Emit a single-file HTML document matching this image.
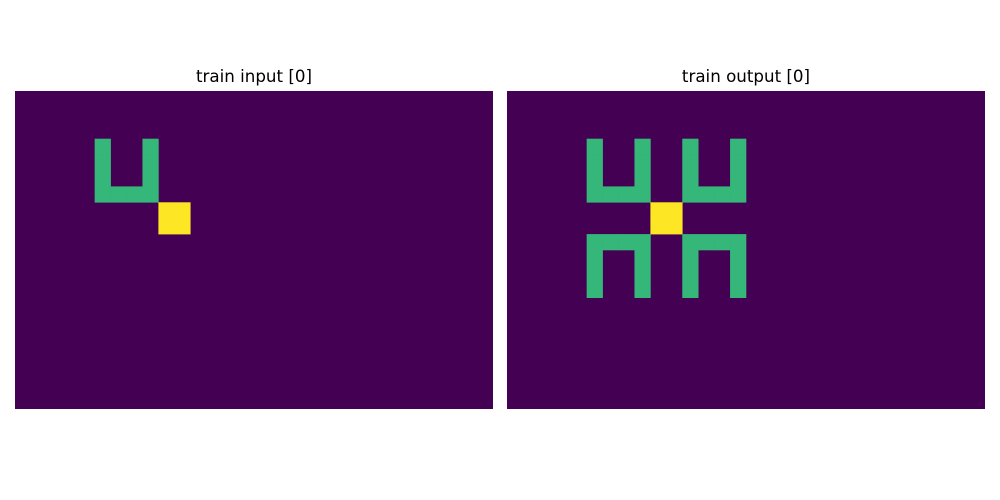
<!DOCTYPE html>
<html><head><meta charset="utf-8"><style>
body{margin:0;background:#fff;width:1000px;height:500px;overflow:hidden;font-family:"DejaVu Sans","Liberation Sans",sans-serif}
svg{display:block}
</style></head><body>
<svg id="chart" width="1000" height="500">
<text x="254" y="82" text-anchor="middle" font-size="16.7" font-family="DejaVu Sans, Liberation Sans, sans-serif">train input [0]</text>
<text x="746" y="82" text-anchor="middle" font-size="16.7" font-family="DejaVu Sans, Liberation Sans, sans-serif">train output [0]</text>
</svg>
<script>
const gridCols = 30, gridRows = 20;
const palette = {0:'#440154', 3:'#35b779', 4:'#fde725'};
// cells: [row, col, value]
const inputCells = [
 [3,5,3],[4,5,3],[5,5,3],[6,5,3],[3,8,3],[4,8,3],[5,8,3],[6,8,3],[6,6,3],[6,7,3],
 [7,9,4],[7,10,4],[8,9,4],[8,10,4]
];
const outputCells = [
 [3,5,3],[4,5,3],[5,5,3],[6,5,3],[3,8,3],[4,8,3],[5,8,3],[6,8,3],[6,6,3],[6,7,3],
 [3,11,3],[4,11,3],[5,11,3],[6,11,3],[3,14,3],[4,14,3],[5,14,3],[6,14,3],[6,12,3],[6,13,3],
 [9,5,3],[10,5,3],[11,5,3],[12,5,3],[9,8,3],[10,8,3],[11,8,3],[12,8,3],[9,6,3],[9,7,3],
 [9,11,3],[10,11,3],[11,11,3],[12,11,3],[9,14,3],[10,14,3],[11,14,3],[12,14,3],[9,12,3],[9,13,3],
 [7,9,4],[7,10,4],[8,9,4],[8,10,4]
];
const svg = document.getElementById('chart');
const NS = 'http://www.w3.org/2000/svg';
function panel(x0, y0, w, h, cells, name){
  const cw = w/gridCols, ch = h/gridRows;
  const bg = document.createElementNS(NS,'rect');
  bg.setAttribute('x',x0);bg.setAttribute('y',y0);bg.setAttribute('width',w);bg.setAttribute('height',h);
  bg.setAttribute('fill',palette[0]);
  
  
  svg.appendChild(bg);
  cells.forEach(c=>{
    const r = document.createElementNS(NS,'rect');
    r.setAttribute('x', x0 + c[1]*cw);
    r.setAttribute('y', y0 + c[0]*ch);
    r.setAttribute('width', cw + 0.3);
    r.setAttribute('height', ch + 0.3);
    r.setAttribute('fill', palette[c[2]]);
    
    
    svg.appendChild(r);
  });
}
panel(15, 91, 478, 318, inputCells, 'input');
panel(507, 91, 478, 318, outputCells, 'output');
</script>
</body></html>
